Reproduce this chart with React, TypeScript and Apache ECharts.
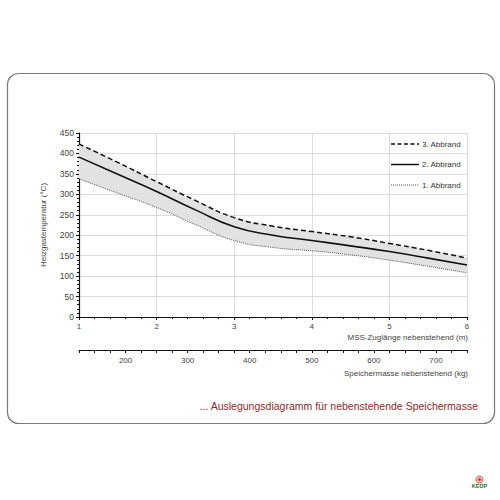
import React, { useEffect, useRef } from "react";
import * as echarts from "echarts";

const xValues = ["1", "1.5", "2", "2.5", "3", "3.5", "4", "4.5", "5", "5.5", "6"];
const abbrand3 = [423, 378, 331, 285, 243, 222, 209, 196, 180, 163, 144];
const abbrand2 = [391, 349, 307, 262, 221, 200, 187, 174, 160, 144, 127];
const abbrand1 = [338, 303, 268, 226, 187, 170, 162, 152, 139, 124, 108];
const seriesNames = ["3. Abbrand", "2. Abbrand", "1. Abbrand"];
const massMin = 125;
const massMax = 750;

const FONT = "Liberation Sans, Arial, sans-serif";

export default function App() {
  const ref = useRef<HTMLDivElement>(null);
  useEffect(() => {
    document.body.style.margin = "0";
    const chart = echarts.init(ref.current!, undefined, { renderer: "svg" });
    const band = abbrand3.map((v, i) => v - abbrand1[i]);
    const smooth = 0.5;
    const legendStyles = [
      { stroke: "#111", lineWidth: 1.5, lineDash: [4, 2.5] },
      { stroke: "#111", lineWidth: 1.5, lineDash: null },
      { stroke: "#555", lineWidth: 1, lineDash: [1, 1] },
    ];
    const legendRows = [144, 164.5, 185];
    const legendGraphics: any[] = [];
    seriesNames.forEach((name, i) => {
      legendGraphics.push({
        type: "line",
        shape: { x1: 391, y1: legendRows[i], x2: 419, y2: legendRows[i] },
        style: { ...legendStyles[i], fill: null },
        silent: true,
      });
      legendGraphics.push({
        type: "text",
        x: 422,
        y: legendRows[i],
        style: {
          text: name,
          fontSize: 8,
          fill: "#333",
          fontFamily: FONT,
          align: "left",
          verticalAlign: "middle",
        },
      });
    });
    chart.setOption({
      animation: false,
      backgroundColor: "#ffffff",
      textStyle: { fontFamily: FONT },
      grid: [
        { left: 79, right: 33, top: 133, bottom: 183 },
        { left: 79, right: 33, top: 349, height: 1 },
      ],
      xAxis: [
        {
          type: "value",
          gridIndex: 0,
          min: 1,
          max: 6,
          interval: 1,
          axisLine: { show: true, onZero: false, lineStyle: { color: "#111", width: 1.2 } },
          axisTick: { show: true, length: 3, lineStyle: { color: "#111" } },
          minorTick: { show: true, splitNumber: 5, length: 2, lineStyle: { color: "#111" } },
          axisLabel: { fontSize: 8, color: "#444", margin: 5, fontFamily: FONT },
          splitLine: { show: true, lineStyle: { color: "#dcdcdc", width: 1 } },
        },
        {
          type: "value",
          gridIndex: 1,
          min: massMin,
          max: massMax,
          interval: 25,
          axisLine: { show: true, onZero: false, lineStyle: { color: "#111", width: 1.2 } },
          axisTick: { show: true, length: 3, lineStyle: { color: "#111" } },
          axisLabel: {
            fontSize: 8,
            color: "#444",
            margin: 6,
            fontFamily: FONT,
            formatter: (v: number) => (v % 100 === 0 ? String(v) : ""),
          },
          splitLine: { show: false },
        },
        {
          type: "category",
          gridIndex: 0,
          data: xValues,
          boundaryGap: false,
          show: false,
        },
      ],
      yAxis: [
        {
          type: "value",
          gridIndex: 0,
          min: 0,
          max: 450,
          interval: 50,
          name: "Heizgastemperatur (°C)",
          nameLocation: "middle",
          nameGap: 32,
          nameTextStyle: { fontSize: 8, color: "#444", fontFamily: FONT },
          axisLine: { show: true, lineStyle: { color: "#111", width: 1.2 } },
          axisTick: { show: true, length: 3, lineStyle: { color: "#111" } },
          minorTick: { show: true, splitNumber: 5, length: 2, lineStyle: { color: "#111" } },
          axisLabel: { fontSize: 8.5, color: "#444", margin: 5, fontFamily: FONT },
          splitLine: { show: true, lineStyle: { color: "#dcdcdc", width: 1 } },
        },
        { type: "value", gridIndex: 1, show: false, min: 0, max: 1 },
      ],
      series: [
        {
          name: "1. Abbrand",
          type: "line",
          xAxisIndex: 2,
          yAxisIndex: 0,
          stack: "band",
          data: abbrand1,
          smooth,
          showSymbol: false,
          symbol: "none",
          z: 4,
          lineStyle: { color: "#555", width: 1, type: [1, 1] },
        },
        {
          name: "band",
          type: "line",
          xAxisIndex: 2,
          yAxisIndex: 0,
          stack: "band",
          data: band,
          smooth,
          showSymbol: false,
          symbol: "none",
          z: 1,
          lineStyle: { width: 0, opacity: 0 },
          areaStyle: { color: "#e2e2e2", opacity: 1 },
          silent: true,
        },
        {
          name: "2. Abbrand",
          type: "line",
          xAxisIndex: 2,
          yAxisIndex: 0,
          data: abbrand2,
          smooth,
          showSymbol: false,
          symbol: "none",
          z: 4,
          lineStyle: { color: "#111", width: 1.6, type: "solid" },
        },
        {
          name: "3. Abbrand",
          type: "line",
          xAxisIndex: 2,
          yAxisIndex: 0,
          data: abbrand3,
          smooth,
          showSymbol: false,
          symbol: "none",
          z: 4,
          lineStyle: { color: "#111", width: 1.5, type: [5, 3] },
        },
      ],
      graphic: [
        {
          type: "rect",
          shape: { x: 7.5, y: 73.5, width: 487, height: 350, r: 11 },
          style: { fill: "none", stroke: "#7a7a7a", lineWidth: 1.2 },
          silent: true,
        },
        ...legendGraphics,
        {
          type: "text",
          x: 468,
          y: 337,
          style: {
            text: "MSS-Zuglänge nebenstehend (m)",
            fontSize: 8,
            fill: "#444",
            fontFamily: FONT,
            align: "right",
            verticalAlign: "middle",
          },
        },
        {
          type: "text",
          x: 468,
          y: 373,
          style: {
            text: "Speichermasse nebenstehend (kg)",
            fontSize: 8,
            fill: "#444",
            fontFamily: FONT,
            align: "right",
            verticalAlign: "middle",
          },
        },
        {
          type: "text",
          x: 478,
          y: 406,
          style: {
            text: "... Auslegungsdiagramm für nebenstehende Speichermasse",
            fontSize: 10.5,
            fill: "#8a2a2e",
            fontFamily: FONT,
            align: "right",
            verticalAlign: "middle",
          },
        },
        {
          type: "circle",
          shape: { cx: 479.5, cy: 479.5, r: 3.5 },
          style: { fill: "#f2c4c4", stroke: "#c0392b", lineWidth: 0.8 },
        },
        {
          type: "circle",
          shape: { cx: 479.5, cy: 479.5, r: 1.5 },
          style: { fill: "#d33" },
        },
        {
          type: "text",
          x: 479.5,
          y: 486,
          style: {
            text: "KEDP",
            fontSize: 5.5,
            fontWeight: "bold",
            fill: "#2e6b2e",
            fontFamily: FONT,
            align: "center",
            verticalAlign: "middle",
          },
        },
      ],
    });
    return () => chart.dispose();
  }, []);
  return <div ref={ref} style={{ width: 500, height: 500 }} />;
}
